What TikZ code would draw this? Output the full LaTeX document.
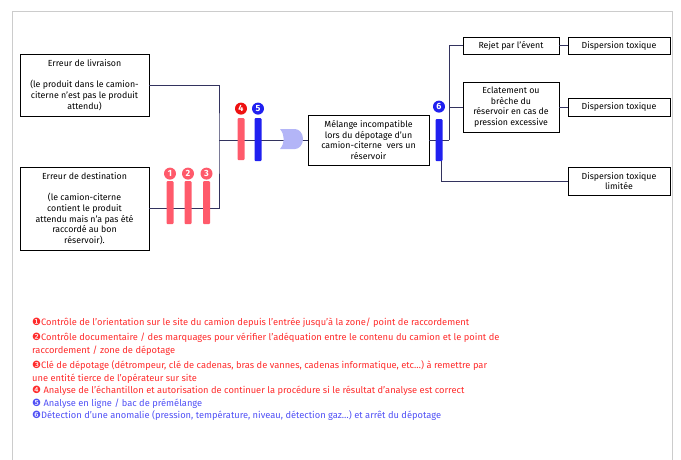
\documentclass[tikz,border=0pt]{standalone}
\usepackage{fontspec}
\setmainfont{Fira Sans}
\newfontfamily\dingfont{DejaVu Sans}
\usetikzlibrary{positioning}
\definecolor{linkblue}{HTML}{33335F}
\definecolor{barred}{HTML}{FF5A6B}
\definecolor{barblue}{HTML}{2020F0}
\definecolor{numred}{HTML}{EE1111}
\definecolor{legred}{HTML}{FF2B2B}
\definecolor{legblue}{HTML}{5050F5}
\definecolor{valvefill}{HTML}{B3B5F7}
\definecolor{framegray}{HTML}{CCCCCC}
\tikzset{
    event/.style={draw=black, line width=0.8pt, align=center, inner sep=1pt, font=\fontsize{8.8}{10.7}\selectfont},
    link/.style={draw=linkblue, line width=0.7pt},
    barrier/.style={rectangle, rounded corners=1pt, minimum width=7pt, inner sep=0pt},
    num/.style={circle, inner sep=0pt, minimum size=12pt, text=white, font=\bfseries\fontsize{9}{9}\selectfont},
    legend/.style={anchor=west, inner sep=0pt, align=left, font=\fontsize{9.3}{13}\selectfont}
}
\newcommand{\bul}[1]{{\dingfont\fontsize{10}{13}\selectfont #1}}

\begin{document}
\begin{tikzpicture}[x=1pt, y=-1pt]
    \useasboundingbox (0,0) rectangle (681,459);
    \draw[framegray, line width=0.8pt] (12,460) -- (12,11) -- (672,11) -- (672,460);

    % causes
    \node[event, minimum width=129pt, minimum height=62pt] (liv) at (84.5,85)
        {Erreur de livraison\\[10.7pt](le produit dans le camion-\\citerne n’est pas le produit\\attendu)};
    \node[event, minimum width=129pt, minimum height=83pt] (dest) at (84.5,208.5)
        {Erreur de destination\\[10.7pt](le camion-citerne\\contient le produit\\attendu mais n’a pas été\\raccordé au bon\\réservoir).};
    \node[event, minimum width=121pt, minimum height=50pt] (mel) at (368.5,140)
        {Mélange incompatible\\lors du dépotage d’un\\camion-citerne \ vers un\\réservoir};

    % consequences
    \node[event, minimum width=96pt, minimum height=17pt] (rejet) at (511,45.5) {Rejet par l’évent};
    \node[event, minimum width=102pt, minimum height=17pt] (disp1) at (619,45.5) {Dispersion toxique};
    \node[event, minimum width=96pt, minimum height=50pt] (ecl) at (511,107)
        {Eclatement ou\\brèche du\\réservoir en cas de\\pression excessive};
    \node[event, minimum width=102pt, minimum height=18pt] (disp2) at (619,107) {Dispersion toxique};
    \node[event, minimum width=102pt, minimum height=28pt] (displim) at (619,181) {Dispersion toxique\\limitée};

    \coordinate (jn) at (219,140);
    \coordinate (jr) at (449,140);
    \draw[link] (liv.east) -| (jn) |- (dest.east);
    \draw[link] (jn) -- (mel.west);
    \draw[link] (mel.east) -- (jr);
    \draw[link] (jr) |- (rejet.west);
    \draw[link] (jr) |- (ecl.west);
    \draw[link] (rejet.east) -- (disp1.west);
    \draw[link] (ecl.east) -- (disp2.west);

    % barriers
    \node[barrier, fill=barred, minimum height=43pt] (b1) at (170,202.5) {};
    \node[barrier, fill=barred, minimum height=43pt] (b2) at (188,202.5) {};
    \node[barrier, fill=barred, minimum height=43pt] (b3) at (206.5,202.5) {};
    \node[barrier, fill=barred, minimum height=42pt] (b4) at (241,139) {};
    \node[barrier, fill=barblue, minimum height=43pt] (b5) at (258,139.5) {};
    \node[barrier, fill=barblue, minimum height=42pt] (b6) at (439,140) {};
    \draw[link] ([xshift=-1pt]b6.south east) |- (displim.west);

    \node[num, fill=barred, above=1pt of b1] (n1) {1};
    \node[num, fill=barred, above=1pt of b2] (n2) {2};
    \node[num, fill=barred, above=1pt of b3] (n3) {3};
    \node[num, fill=numred, above=3pt of b4] (n4) {4};
    \node[num, fill=barblue, above=3pt of b5] (n5) {5};
    \node[num, fill=barblue, above=6pt of b6] (n6) {6};

    % valve
    \fill[valvefill] (280,129) -- (295,129) arc (90:-90:8pt and 10pt) -- (280,149)
        .. controls (285,143) and (285,135) .. (280,129);

    % legend
    \node[legend, text=legred] (l1) at (32,323) {\bul{❶}Contrôle de l'orientation sur le site du camion depuis l'entrée jusqu'à la zone/ point de raccordement};
    \node[legend, text=legred] (l2) at (32,344.5) {\bul{❷}Contrôle documentaire / des marquages pour vérifier l’adéquation entre le contenu du camion et le point de\\raccordement / zone de dépotage};
    \node[legend, text=legred] (l3) at (32,372.5) {\bul{❸}Clé de dépotage (détrompeur, clé de cadenas, bras de vannes, cadenas informatique, etc…) à remettre par\\une entité tierce de l’opérateur sur site};
    \node[legend, text=legred] (l4) at (32,391) {\bul{❹} Analyse de l’échantillon et autorisation de continuer la procédure si le résultat d’analyse est correct};
    \node[legend, text=legblue] (l5) at (32,404) {\bul{❺} Analyse en ligne / bac de prémélange};
    \node[legend, text=legblue] (l6) at (32,416) {\bul{❻}Détection d’une anomalie (pression, température, niveau, détection gaz…) et arrêt du dépotage};
\end{tikzpicture}
\end{document}
